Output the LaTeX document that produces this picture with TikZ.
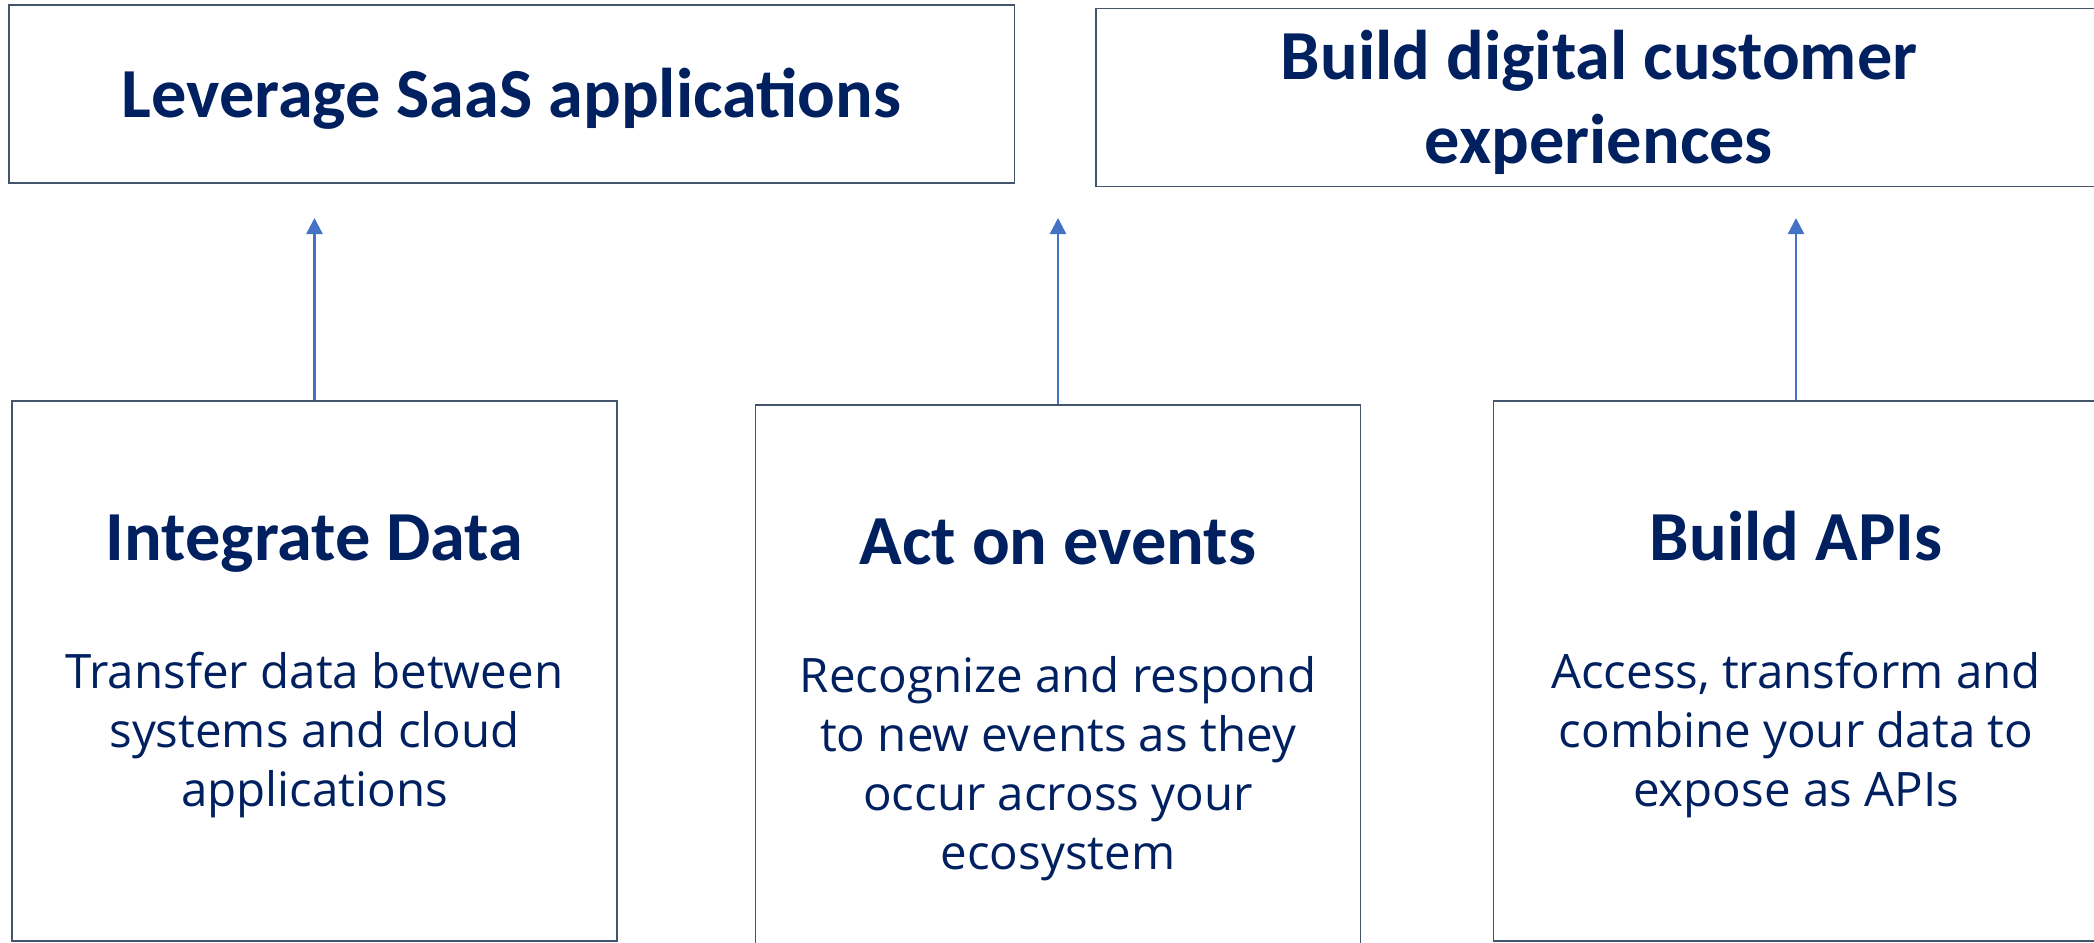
\documentclass[tikz,border=0pt]{standalone}
\usepackage{fontspec}
\setmainfont{Carlito}
\newfontfamily\plexfont{Open Sans}
\usetikzlibrary{positioning,arrows.meta}
\definecolor{navy}{HTML}{002060}
\definecolor{frame}{HTML}{44546A}
\definecolor{link}{HTML}{4472C4}
\newcommand{\dropline}[1]{\raisebox{-1.3pt}[\height][\depth]{#1}}

\begin{document}
\begin{tikzpicture}[x=0.01cm, y=-0.01cm,
   box/.style={draw=frame, line width=0.45pt, inner sep=0pt},
   goal/.style={box, minimum width=10.05cm, minimum height=1.78cm,
      font=\fontsize{20}{24}\selectfont\bfseries, text=navy, align=center},
   pillar/.style={box, minimum width=6.05cm, minimum height=5.4cm},
   headline/.style={font=\fontsize{20}{24}\selectfont\bfseries, text=navy},
   blurb/.style={font=\plexfont\fontsize{13.5}{16.8}\selectfont, text=navy, align=center},
   flow/.style={-{Triangle[width=4.6pt,length=4.6pt]}, draw=link, line width=0.7pt}]

   \useasboundingbox (0,0) rectangle (2094,943);
   \clip (0,0) rectangle (2094,943);

   % outcomes
   \node[goal] (saas) at (511.5,94) {\dropline{Leverage SaaS applications}};
   \node[goal] (digital) at (1599,97.5) {\dropline{Build digital customer}\\\dropline{experiences}};

   % capabilities
   \node[pillar] (integ) at (314.5,671) {};
   \node[pillar] (events) at (1058,675) {};
   \node[pillar] (apis) at (1796,671) {};

   \node[headline, below=1.60cm of integ.north, anchor=base] (integT) {Integrate Data};
   \node[headline, below=1.60cm of events.north, anchor=base] (eventsT) {Act on events};
   \node[headline, below=1.60cm of apis.north, anchor=base] (apisT) {Build APIs};

   % base anchor sits on the last line
   \node[blurb, below=4.06cm of integ.north, anchor=base] (integB)
      {Transfer data between\\systems and cloud\\applications};
   \node[blurb, below=4.65cm of events.north, anchor=base] (eventsB)
      {Recognize and respond\\to new events as they\\occur across your\\ecosystem};
   \node[blurb, below=4.06cm of apis.north, anchor=base] (apisB)
      {Access, transform and\\combine your data to\\expose as APIs};

   \coordinate (up1) at (integ.north |- 0,218);
   \coordinate (up2) at (events.north |- 0,218);
   \coordinate (up3) at (apis.north |- 0,218);

   \draw[flow] (integ.north) -- (up1);
   \draw[flow] (events.north) -- (up2);
   \draw[flow] (apis.north) -- (up3);
\end{tikzpicture}
\end{document}
